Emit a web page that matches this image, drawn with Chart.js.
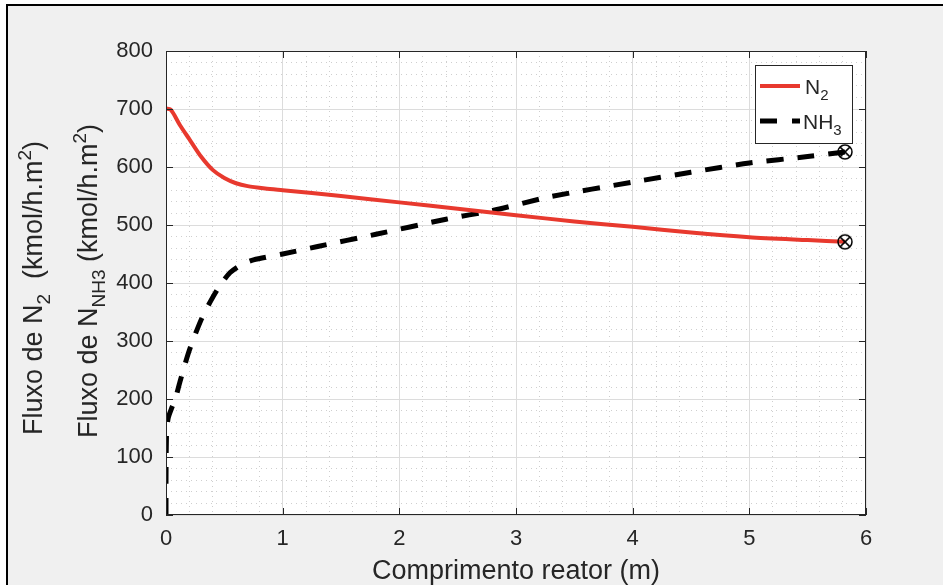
<!DOCTYPE html>
<html>
<head>
<meta charset="utf-8">
<script src="https://cdn.jsdelivr.net/npm/chart.js@4/dist/chart.umd.min.js"></script>
<style>
	html, body { margin: 0; padding: 0; background: #fff; }
	#wrap { width: 943px; height: 585px; }
</style>
</head>
<body>
<div id="wrap"><canvas id="chart" width="943" height="585"></canvas></div>
<script>
// reactor length (m) and molar fluxes
var n2X = [0, 0.04, 0.07, 0.12, 0.2, 0.3, 0.4, 0.5, 0.6, 0.7, 0.85, 1.0, 1.5, 2.0, 2.5, 3.0, 3.5, 4.0, 4.5, 5.0, 5.5, 5.82];
var n2Y = [701, 699, 690, 672, 648, 618, 595, 581, 572, 567, 563, 560, 550, 539, 528, 517, 506, 497, 487, 479, 474, 471];

var nh3X = [0, 0, 0.005, 0.02, 0.05, 0.08, 0.12, 0.2, 0.3, 0.38, 0.46, 0.55, 0.65, 0.75, 1.0, 1.3, 1.8, 2.4, 2.8, 3.3, 4.0, 4.5, 5.0, 5.5, 5.82];
var nh3Y = [0, 60, 143, 168, 185, 200, 230, 284, 336, 368, 395, 418, 432, 440, 450, 463, 484, 510, 525, 549, 574, 591, 607, 618, 626];

var seriesNames = ["N2", "NH3"];

var FONT = "'Liberation Sans', Arial, Helvetica, sans-serif";
var TXT = "#262626";

var toPoints = (xs, ys) => xs.map((x, i) => ({x: x, y: ys[i]}));
var lastOnly = (arr) => arr.map((v, i) => i === arr.length - 1 ? 8 : 0);

// circle-with-cross marker at the end of each curve
var marker = document.createElement("canvas");
marker.width = 18; marker.height = 18;
(function() {
	var c = marker.getContext("2d");
	c.strokeStyle = "#000";
	c.lineWidth = 1.5;
	c.beginPath(); c.arc(9, 9, 7, 0, Math.PI * 2); c.stroke();
	c.beginPath();
	c.moveTo(4.1, 4.1); c.lineTo(13.9, 13.9);
	c.moveTo(13.9, 4.1); c.lineTo(4.1, 13.9);
	c.stroke();
})();

// draws text with sub/superscripts, rotated for the y axis title
function drawRich(ctx, parts, baseX, centerY, size) {
	var small = Math.round(size * 0.72);
	var widths = parts.map(p => {
		ctx.font = (p.sub || p.sup ? small : size) + "px " + FONT;
		return ctx.measureText(p.t).width;
	});
	var total = widths.reduce((a, b) => a + b, 0);
	ctx.save();
	ctx.translate(0, centerY);
	ctx.rotate(-Math.PI / 2);
	ctx.fillStyle = TXT;
	ctx.textBaseline = "alphabetic";
	ctx.textAlign = "left";
	var x = -total / 2;
	parts.forEach((p, i) => {
		ctx.font = (p.sub || p.sup ? small : size) + "px " + FONT;
		var dy = p.sub ? size * 0.3 : (p.sup ? -size * 0.42 : 0);
		ctx.fillText(p.t, x, baseX + dy);
		x += widths[i];
	});
	ctx.restore();
}

function drawRichFlat(ctx, parts, x, y, size) {
	var small = Math.round(size * 0.72);
	ctx.fillStyle = TXT;
	ctx.textBaseline = "alphabetic";
	ctx.textAlign = "left";
	parts.forEach(p => {
		ctx.font = (p.sub ? small : size) + "px " + FONT;
		ctx.fillText(p.t, x, y + (p.sub ? size * 0.3 : 0));
		x += ctx.measureText(p.t).width;
	});
}

var frame = {
	id: "frame",
	beforeDraw: function(chart) {
		var ctx = chart.ctx, a = chart.chartArea;
		ctx.save();
		ctx.fillStyle = "#ffffff";
		ctx.fillRect(0, 0, chart.width, chart.height);
		ctx.fillStyle = "#f0f0f0";
		ctx.fillRect(8, 6, chart.width - 8, chart.height - 6);
		ctx.fillStyle = "#000";
		ctx.fillRect(6, 4, 2, chart.height - 4);
		ctx.fillRect(6, 4, chart.width - 6, 2);
		ctx.fillStyle = "#ffffff";
		ctx.fillRect(a.left, a.top, a.right - a.left, a.bottom - a.top);
		ctx.restore();
	},
	afterDatasetsDraw: function(chart) {
		var ctx = chart.ctx, a = chart.chartArea;
		var xs = chart.scales.x, ys = chart.scales.y;
		ctx.save();
		ctx.strokeStyle = TXT;
		ctx.lineWidth = 1;
		ctx.strokeRect(a.left + 0.5, a.top + 0.5, a.right - a.left - 1, a.bottom - a.top - 1);
		ctx.beginPath();
		xs.ticks.forEach(t => {
			var px = Math.round(xs.getPixelForValue(t.value)) + 0.5;
			ctx.moveTo(px, a.bottom); ctx.lineTo(px, a.bottom - 7);
			ctx.moveTo(px, a.top); ctx.lineTo(px, a.top + 7);
		});
		ys.ticks.forEach(t => {
			var py = Math.round(ys.getPixelForValue(t.value)) + 0.5;
			ctx.moveTo(a.left, py); ctx.lineTo(a.left + 7, py);
			ctx.moveTo(a.right, py); ctx.lineTo(a.right - 7, py);
		});
		ctx.stroke();
		ctx.restore();
	},
	afterDraw: function(chart) {
		var ctx = chart.ctx, a = chart.chartArea;
		// y axis titles
		drawRich(ctx, [{t: "Fluxo de N"}, {t: "2", sub: true}, {t: "  (kmol/h.m"}, {t: "2", sup: true}, {t: ")"}], 42, 288, 27);
		drawRich(ctx, [{t: "Fluxo de N"}, {t: "NH3", sub: true}, {t: " (kmol/h.m"}, {t: "2", sup: true}, {t: ")"}], 97, 281, 27);

		// legend
		var lx = a.right - 111, ly = a.top + 14, lw = 97, lh = 78;
		ctx.save();
		ctx.fillStyle = "#fff";
		ctx.fillRect(lx, ly, lw, lh);
		ctx.strokeStyle = TXT;
		ctx.lineWidth = 1;
		ctx.strokeRect(lx + 0.5, ly + 0.5, lw, lh);
		ctx.lineCap = "butt";
		ctx.strokeStyle = chart.data.datasets[0].borderColor;
		ctx.lineWidth = 4;
		ctx.beginPath(); ctx.moveTo(lx + 5, ly + 21); ctx.lineTo(lx + 45, ly + 21); ctx.stroke();
		ctx.strokeStyle = "#000";
		ctx.lineWidth = 5;
		ctx.beginPath();
		ctx.moveTo(lx + 5, ly + 56); ctx.lineTo(lx + 22, ly + 56);
		ctx.moveTo(lx + 37, ly + 56); ctx.lineTo(lx + 45, ly + 56);
		ctx.stroke();
		drawRichFlat(ctx, [{t: "N"}, {t: "2", sub: true}], lx + 50, ly + 29, 21);
		drawRichFlat(ctx, [{t: "NH"}, {t: "3", sub: true}], lx + 48, ly + 64, 21);
		ctx.restore();
	}
};

var ctx = document.getElementById("chart").getContext("2d");
var chart = new Chart(ctx, {
	type: "line",
	data: {
		datasets: [
			{
				label: seriesNames[0],
				data: toPoints(n2X, n2Y),
				borderColor: "#e8392e",
				borderWidth: 4,
				tension: 0.25,
				fill: false,
				pointStyle: marker,
				pointRadius: lastOnly(n2X),
				xAxisID: "x",
				yAxisID: "y"
			},
			{
				label: seriesNames[1],
				data: toPoints(nh3X, nh3Y),
				borderColor: "#000000",
				borderWidth: 5,
				borderDash: [17, 14],
				borderCapStyle: "butt",
				tension: 0.25,
				fill: false,
				pointStyle: marker,
				pointRadius: lastOnly(nh3X),
				xAxisID: "x",
				yAxisID: "y"
			}
		]
	},
	options: {
		responsive: false,
		devicePixelRatio: 1,
		animation: false,
		layout: { padding: { top: 51, right: 77, left: 0, bottom: 0 } },
		plugins: { legend: { display: false }, tooltip: { enabled: false } },
		scales: {
			xm: {
				type: "linear", position: "bottom", min: 0, max: 6,
				ticks: { display: false, stepSize: 0.2 },
				grid: { color: "#cfcfcf", drawTicks: false, z: -1 },
				border: { display: false, dash: [1, 4] },
				afterFit: (s) => { s.height = 0; }
			},
			ym: {
				type: "linear", position: "left", min: 0, max: 800,
				ticks: { display: false, stepSize: 20 },
				grid: { color: "#cfcfcf", drawTicks: false, z: -1 },
				border: { display: false, dash: [1, 4] },
				afterFit: (s) => { s.width = 0; }
			},
			x: {
				type: "linear", position: "bottom", min: 0, max: 6,
				ticks: { stepSize: 1, color: TXT, font: { family: FONT, size: 22 }, padding: 11, maxRotation: 0 },
				grid: { color: "#dcdcdc", drawTicks: false },
				border: { display: false },
				title: { display: true, text: "Comprimento reator (m)", color: TXT, font: { family: FONT, size: 27 }, padding: { top: 0, bottom: -3 } },
				afterFit: (s) => { s.height = 70; }
			},
			y: {
				type: "linear", position: "left", min: 0, max: 800,
				ticks: { stepSize: 100, color: TXT, font: { family: FONT, size: 22 }, padding: 13 },
				grid: { color: "#dcdcdc", drawTicks: false },
				border: { display: false },
				afterFit: (s) => { s.width = 166; }
			}
		}
	},
	plugins: [frame]
});
</script>
</body>
</html>
